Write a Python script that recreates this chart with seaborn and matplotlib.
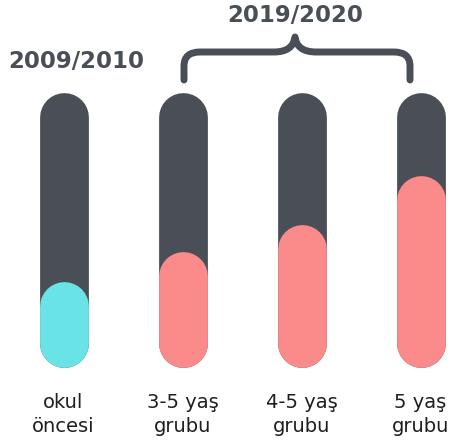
import matplotlib
matplotlib.use("Agg")
import matplotlib.pyplot as plt
import seaborn as sns
from matplotlib.patches import PathPatch
from matplotlib.path import Path

# --- data ---
categories = ["okul\nöncesi", "3-5 yaş\ngrubu", "4-5 yaş\ngrubu", "5 yaş\ngrubu"]
periods = ["2009/2010", "2019/2020", "2019/2020", "2019/2020"]
shares = [31, 42, 52, 70]
full = [100, 100, 100, 100]

dark = "#4a4f57"
palette = {"2009/2010": "#6ae3e6", "2019/2020": "#fb8a8b"}

W, H = 454, 444
fig = plt.figure(figsize=(W / 100, H / 100), dpi=100)
ax = fig.add_axes([0, 77 / H, 1, 274 / H])

bar_w = 0.41
sns.barplot(x=categories, y=full, color=dark, width=bar_w, ax=ax, saturation=1)
sns.barplot(x=categories, y=shares, hue=periods, palette=palette, dodge=False,
            width=bar_w, legend=False, ax=ax, saturation=1)

ax.set_xlim(-63.5 / 119, (W - 63.5) / 119)
ax.set_ylim(0, 100)

# turn the plain bars into capsules: thick lines with round caps
bbox = ax.get_window_extent()
x_per_px = (ax.get_xlim()[1] - ax.get_xlim()[0]) / bbox.width
y_per_px = (ax.get_ylim()[1] - ax.get_ylim()[0]) / bbox.height
for p in list(ax.patches):
    x, y = p.get_x(), p.get_y()
    w, h = p.get_width(), p.get_height()
    fc = p.get_facecolor()
    p.remove()
    w_px = w / x_per_px
    r = (w_px / 2) * y_per_px
    ax.plot([x + w / 2, x + w / 2], [y + r, y + h - r], color=fc,
            linewidth=w_px * 72 / fig.dpi, solid_capstyle="round", clip_on=False)

sns.despine(ax=ax, left=True, bottom=True)
ax.set_yticks([])
ax.set_ylabel("")
ax.set_xticks(range(len(categories)))
ax.set_xticklabels(categories, fontsize=14, color="#1e1e1e", linespacing=1.3)
ax.tick_params(axis="x", length=0, pad=19)

# titles
fig.text(76 / W, 1 - 62 / H, "2009/2010", ha="center", va="center",
         fontsize=16.5, fontweight="bold", color=dark)
fig.text(295 / W, 1 - 15 / H, "2019/2020", ha="center", va="center",
         fontsize=16.5, fontweight="bold", color=dark)

# curly brace over the 2019/2020 bars
pts = [(184, 80), (184, 66), (184, 52), (200, 52), (274, 52),
       (293, 52), (295, 37), (297, 52), (316, 52), (394, 52),
       (410, 52), (410, 66), (410, 80)]
codes = [Path.MOVETO, Path.LINETO, Path.CURVE3, Path.CURVE3, Path.LINETO,
         Path.CURVE3, Path.CURVE3, Path.CURVE3, Path.CURVE3, Path.LINETO,
         Path.CURVE3, Path.CURVE3, Path.LINETO]
verts = [(px / W, 1 - py / H) for px, py in pts]
brace = PathPatch(Path(verts, codes), transform=fig.transFigure, fill=False,
                  edgecolor=dark, linewidth=5, capstyle="round", joinstyle="round")
fig.patches.append(brace)

fig.savefig("out.png", dpi=100)
